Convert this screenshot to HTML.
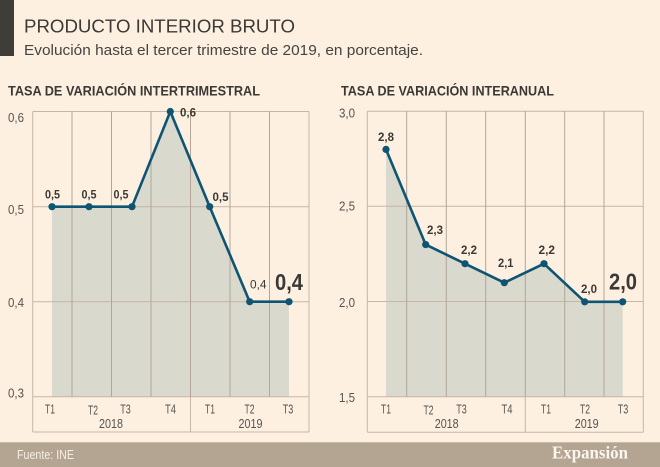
<!DOCTYPE html>
<html>
<head>
<meta charset="utf-8">
<style>
html,body{margin:0;padding:0;background:#fdf0e1;}
svg{display:block;}
text{font-family:"Liberation Sans",sans-serif;}
</style>
</head>
<body>
<svg width="660" height="467" viewBox="0 0 660 467" xmlns="http://www.w3.org/2000/svg">
<rect x="0" y="0" width="660" height="467" fill="#fdf0e1"/>
<!-- header -->
<rect x="0" y="0" width="14" height="56" fill="#3f3d37"/>
<text x="24" y="32.3" font-size="18.7" fill="#3b3935" textLength="271" lengthAdjust="spacingAndGlyphs">PRODUCTO INTERIOR BRUTO</text>
<text x="24" y="55" font-size="15" fill="#444340" textLength="399" lengthAdjust="spacingAndGlyphs">Evolución hasta el tercer trimestre de 2019, en porcentaje.</text>

<!-- section headings -->
<text x="8" y="95.5" font-size="14" font-weight="bold" fill="#3a3935" textLength="252" lengthAdjust="spacingAndGlyphs">TASA DE VARIACIÓN INTERTRIMESTRAL</text>
<text x="341" y="95.5" font-size="14" font-weight="bold" fill="#3a3935" textLength="213" lengthAdjust="spacingAndGlyphs">TASA DE VARIACIÓN INTERANUAL</text>

<!-- LEFT CHART -->
<polygon points="52,396.7 52,206.7 89,206.7 132,206.7 170.3,111.5 209.7,206.7 249.7,301.7 289,301.7 289,396.7" fill="#d9d9ce"/>
<g stroke="#c8b6a4" stroke-width="1" fill="none">
  <line x1="32.7" y1="111.5" x2="309" y2="111.5"/>
  <line x1="32.7" y1="206.7" x2="309" y2="206.7"/>
  <line x1="32.7" y1="301.7" x2="309" y2="301.7"/>
  <line x1="32.7" y1="396.7" x2="309" y2="396.7"/>
  <line x1="32.7" y1="432" x2="309" y2="432"/>
  <line x1="32.7" y1="111.5" x2="32.7" y2="432"/>
  <line x1="309" y1="111.5" x2="309" y2="432"/>
  <line x1="190.5" y1="396.7" x2="190.5" y2="432"/>
</g>
<g stroke="#b3a696" stroke-width="1" fill="none">
  <line x1="72" y1="111.5" x2="72" y2="396.7"/>
  <line x1="111.5" y1="111.5" x2="111.5" y2="396.7"/>
  <line x1="151" y1="111.5" x2="151" y2="396.7"/>
  <line x1="190.5" y1="111.5" x2="190.5" y2="396.7"/>
  <line x1="230" y1="111.5" x2="230" y2="396.7"/>
  <line x1="269.5" y1="111.5" x2="269.5" y2="396.7"/>
</g>
<polyline points="52,206.7 89,206.7 132,206.7 170.3,111.5 209.7,206.7 249.7,301.7 289,301.7" fill="none" stroke="#0e5473" stroke-width="2.6" stroke-linejoin="round"/>
<g fill="#0e5473">
  <circle cx="52" cy="206.7" r="3.6"/>
  <circle cx="89" cy="206.7" r="3.6"/>
  <circle cx="132" cy="206.7" r="3.6"/>
  <circle cx="170.3" cy="111.5" r="3.6"/>
  <circle cx="209.7" cy="206.7" r="3.6"/>
  <circle cx="249.7" cy="301.7" r="3.6"/>
  <circle cx="289" cy="301.7" r="3.6"/>
</g>
<!-- y labels left -->
<g font-size="12.5" fill="#555450">
  <text x="8" y="122" textLength="16" lengthAdjust="spacingAndGlyphs">0,6</text>
  <text x="8" y="214" textLength="16" lengthAdjust="spacingAndGlyphs">0,5</text>
  <text x="8" y="307" textLength="16" lengthAdjust="spacingAndGlyphs">0,4</text>
  <text x="8" y="397.5" textLength="16" lengthAdjust="spacingAndGlyphs">0,3</text>
</g>
<!-- data labels left -->
<g font-size="11.5" font-weight="bold" fill="#3a3935">
  <text x="45" y="198.5" textLength="15" lengthAdjust="spacingAndGlyphs">0,5</text>
  <text x="81.5" y="198.5" textLength="15" lengthAdjust="spacingAndGlyphs">0,5</text>
  <text x="113.5" y="198.5" textLength="15" lengthAdjust="spacingAndGlyphs">0,5</text>
  <text x="180" y="116.5" textLength="16" lengthAdjust="spacingAndGlyphs">0,6</text>
  <text x="212.5" y="201" textLength="16" lengthAdjust="spacingAndGlyphs">0,5</text>
</g>
<text x="250" y="288.5" font-size="11.5" fill="#3a3935" textLength="16.5" lengthAdjust="spacingAndGlyphs">0,4</text>
<text x="275" y="290" font-size="23.5" font-weight="bold" fill="#3a3935" textLength="28" lengthAdjust="spacingAndGlyphs">0,4</text>
<!-- x labels left -->
<g font-size="12.5" fill="#555450" text-anchor="middle">
  <text x="50" y="413.5" textLength="10" lengthAdjust="spacingAndGlyphs">T1</text>
  <text x="93" y="414.5" textLength="10" lengthAdjust="spacingAndGlyphs">T2</text>
  <text x="125.5" y="413.5" textLength="10.5" lengthAdjust="spacingAndGlyphs">T3</text>
  <text x="170.5" y="413.5" textLength="11" lengthAdjust="spacingAndGlyphs">T4</text>
  <text x="210" y="413.5" textLength="10" lengthAdjust="spacingAndGlyphs">T1</text>
  <text x="249.5" y="413.5" textLength="10" lengthAdjust="spacingAndGlyphs">T2</text>
  <text x="288" y="413.5" textLength="10.5" lengthAdjust="spacingAndGlyphs">T3</text>
  <text x="111" y="428" textLength="24" lengthAdjust="spacingAndGlyphs">2018</text>
  <text x="250.5" y="428" textLength="24" lengthAdjust="spacingAndGlyphs">2019</text>
</g>

<!-- RIGHT CHART -->
<polygon points="386,397 386,149.4 425.7,244.6 465,263.7 504.3,282.7 544,263.7 584.7,301.8 622.7,301.8 622.7,397" fill="#d9d9ce"/>
<g stroke="#c8b6a4" stroke-width="1" fill="none">
  <line x1="367.3" y1="111.3" x2="643.3" y2="111.3"/>
  <line x1="367.3" y1="206.3" x2="643.3" y2="206.3"/>
  <line x1="367.3" y1="301.5" x2="643.3" y2="301.5"/>
  <line x1="367.3" y1="396.7" x2="643.3" y2="396.7"/>
  <line x1="367.3" y1="432.3" x2="643.3" y2="432.3"/>
  <line x1="367.3" y1="111.3" x2="367.3" y2="432.3"/>
  <line x1="643.3" y1="111.3" x2="643.3" y2="432.3"/>
  <line x1="525.3" y1="396.7" x2="525.3" y2="432.3"/>
</g>
<g stroke="#b3a696" stroke-width="1" fill="none">
  <line x1="406.7" y1="111.3" x2="406.7" y2="396.7"/>
  <line x1="446.3" y1="111.3" x2="446.3" y2="396.7"/>
  <line x1="485.7" y1="111.3" x2="485.7" y2="396.7"/>
  <line x1="525.3" y1="111.3" x2="525.3" y2="396.7"/>
  <line x1="564.7" y1="111.3" x2="564.7" y2="396.7"/>
  <line x1="604" y1="111.3" x2="604" y2="396.7"/>
</g>
<polyline points="386,149.4 425.7,244.6 465,263.7 504.3,282.7 544,263.7 584.7,301.8 622.7,301.8" fill="none" stroke="#0e5473" stroke-width="2.6" stroke-linejoin="round"/>
<g fill="#0e5473">
  <circle cx="386" cy="149.4" r="3.6"/>
  <circle cx="425.7" cy="244.6" r="3.6"/>
  <circle cx="465" cy="263.7" r="3.6"/>
  <circle cx="504.3" cy="282.7" r="3.6"/>
  <circle cx="544" cy="263.7" r="3.6"/>
  <circle cx="584.7" cy="301.8" r="3.6"/>
  <circle cx="622.7" cy="301.8" r="3.6"/>
</g>
<g font-size="12.5" fill="#555450">
  <text x="339" y="117.5" textLength="16" lengthAdjust="spacingAndGlyphs">3,0</text>
  <text x="339" y="210.5" textLength="16" lengthAdjust="spacingAndGlyphs">2,5</text>
  <text x="339" y="307" textLength="16" lengthAdjust="spacingAndGlyphs">2,0</text>
  <text x="339" y="402" textLength="16" lengthAdjust="spacingAndGlyphs">1,5</text>
</g>
<g font-size="11.5" font-weight="bold" fill="#3a3935">
  <text x="378" y="141" textLength="16" lengthAdjust="spacingAndGlyphs">2,8</text>
  <text x="427" y="234" textLength="16" lengthAdjust="spacingAndGlyphs">2,3</text>
  <text x="461" y="254" textLength="16" lengthAdjust="spacingAndGlyphs">2,2</text>
  <text x="498" y="267" textLength="15.5" lengthAdjust="spacingAndGlyphs">2,1</text>
  <text x="538.5" y="254" textLength="16.5" lengthAdjust="spacingAndGlyphs">2,2</text>
  <text x="581" y="293" textLength="16" lengthAdjust="spacingAndGlyphs">2,0</text>
</g>
<text x="609" y="289.5" font-size="23.5" font-weight="bold" fill="#3a3935" textLength="28" lengthAdjust="spacingAndGlyphs">2,0</text>
<g font-size="12.5" fill="#555450" text-anchor="middle">
  <text x="386" y="413.5" textLength="10" lengthAdjust="spacingAndGlyphs">T1</text>
  <text x="428.5" y="414.5" textLength="10" lengthAdjust="spacingAndGlyphs">T2</text>
  <text x="461.5" y="413.5" textLength="10.5" lengthAdjust="spacingAndGlyphs">T3</text>
  <text x="507" y="413.5" textLength="11" lengthAdjust="spacingAndGlyphs">T4</text>
  <text x="546" y="413.5" textLength="10" lengthAdjust="spacingAndGlyphs">T1</text>
  <text x="585" y="413.5" textLength="10" lengthAdjust="spacingAndGlyphs">T2</text>
  <text x="623" y="413.5" textLength="10.5" lengthAdjust="spacingAndGlyphs">T3</text>
  <text x="446.7" y="428" textLength="24" lengthAdjust="spacingAndGlyphs">2018</text>
  <text x="586.7" y="428" textLength="24" lengthAdjust="spacingAndGlyphs">2019</text>
</g>

<!-- footer -->
<rect x="0" y="442.3" width="660" height="24.7" fill="#b4a492"/>
<text x="17" y="459" font-size="12.5" fill="#f6efe5" textLength="57" lengthAdjust="spacingAndGlyphs">Fuente: INE</text>
<text x="552" y="458.5" style="font-family:'Liberation Serif',serif;font-weight:bold;font-size:17.5px;" fill="#fbf6ef" textLength="76" lengthAdjust="spacingAndGlyphs">Expansión</text>
</svg>
</body>
</html>
